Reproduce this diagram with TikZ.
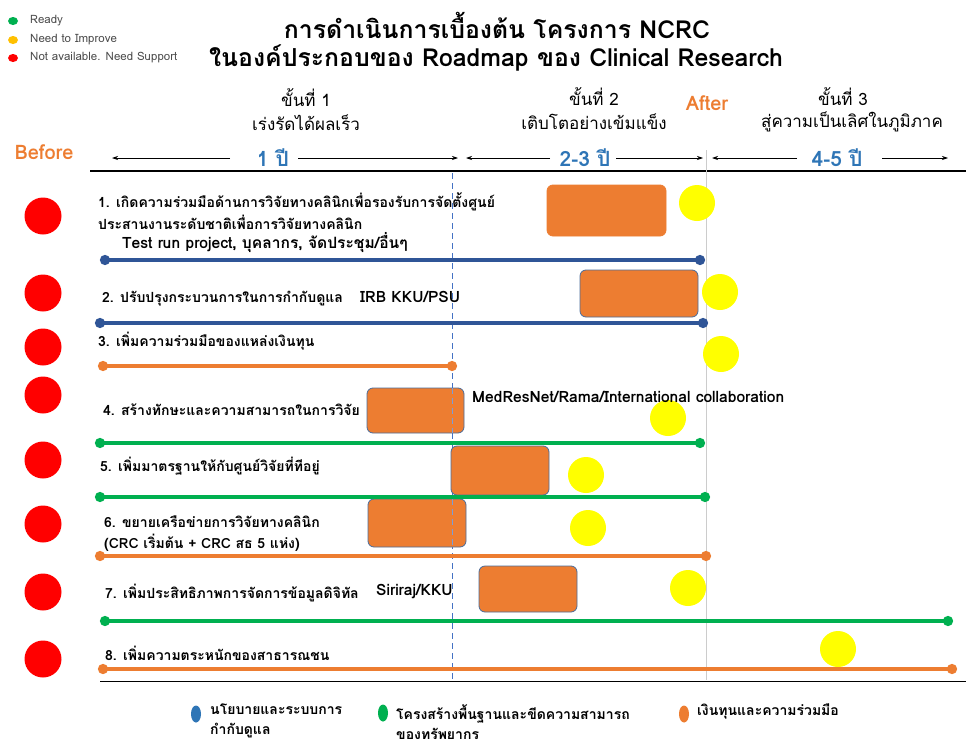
\documentclass[tikz,border=0pt]{standalone}
\usepackage{fontspec}
\setmainfont[Script=Thai]{Loma}
\usetikzlibrary{arrows.meta,shapes.geometric}
\definecolor{cOrange}{HTML}{ED7D31}
\definecolor{cBlueLine}{HTML}{2F5597}
\definecolor{cGreen}{HTML}{00B050}
\definecolor{cYel}{HTML}{FFFF00}
\definecolor{cRed}{HTML}{FF0000}
\definecolor{cBlueTxt}{HTML}{2E75B6}
\definecolor{cBoxEdge}{HTML}{4A6C9B}
\definecolor{cGold}{HTML}{FFC000}
\definecolor{cDash}{HTML}{4472C4}
\tikzset{
  reddot/.style={circle,fill=cRed,minimum size=37pt,inner sep=0pt},
  yeldot/.style={circle,fill=cYel,minimum size=36pt,inner sep=0pt},
  taskbox/.style={rounded corners=6pt,fill=cOrange,draw=cBoxEdge,line width=0.8pt,inner sep=0pt},
  rowtxt/.style={anchor=west,inner sep=0pt,font=\fontsize{14}{16}\selectfont\bfseries},
  reftxt/.style={anchor=west,inner sep=0pt,font=\fontsize{15.6}{17}\selectfont\bfseries},
  tl/.style={line width=3.8pt,{Circle[length=10pt,width=10pt]}-{Circle[length=10pt,width=10pt]}},
  hdrarrow/.style={line width=0.7pt,-{Stealth[length=6pt,width=4pt]}},
  yeartxt/.style={text=cBlueTxt,inner sep=0pt,font=\fontsize{21}{23}\selectfont\bfseries},
  stagetxt/.style={inner sep=0pt,align=center,font=\fontsize{17}{25}\selectfont},
  legdot/.style={ellipse,minimum width=10pt,minimum height=8pt,inner sep=0pt},
  legtxt/.style={anchor=west,inner sep=0pt,text=black!70,font=\fontsize{11.5}{13}\selectfont},
  bleg/.style={ellipse,minimum width=10pt,minimum height=17pt,inner sep=0pt},
  blegtxt/.style={anchor=north west,inner sep=0pt,align=left,font=\fontsize{14}{20}\selectfont\bfseries},
  beforeafter/.style={text=cOrange,inner sep=0pt,font=\fontsize{20}{22}\selectfont\bfseries}
}
\begin{document}
\begin{tikzpicture}[x=1pt,y=-1pt]
\useasboundingbox[fill=white] (0,0) rectangle (966,744);

% top-left legend
\node[legdot,fill=cGreen] (lg1) at (13,21) {};
\node[legdot,fill=cGold] (lg2) at (13,40) {};
\node[legdot,fill=cRed] (lg3) at (13,58) {};
\node[legtxt] (lt1) at (30,21) {Ready};
\node[legtxt] (lt2) at (30,40) {Need to Improve};
\node[legtxt] (lt3) at (30,58) {Not available. Need Support};

% title
\node[inner sep=0pt,font=\fontsize{24.8}{30}\selectfont\bfseries] (t1) at (497,25) {การดำเนินการเบื้องต้น โครงการ NCRC};
\node[inner sep=0pt,font=\fontsize{24.8}{30}\selectfont\bfseries] (t2) at (496,58) {ในองค์ประกอบของ Roadmap ของ Clinical Research};

% stages
\node[stagetxt] (s1a) at (306,98) {ขั้นที่ 1};
\node[stagetxt] (s1b) at (306,123) {เร่งรัดได้ผลเร็ว};
\node[stagetxt] (s2a) at (594,97) {ขั้นที่ 2};
\node[stagetxt] (s2b) at (594,122) {เติบโตอย่างเข้มแข็ง};
\node[stagetxt] (s3a) at (843,97) {ขั้นที่ 3};
\node[stagetxt] (s3b) at (852,122) {สู่ความเป็นเลิศในภูมิภาค};
\node[beforeafter] (after) at (707,103) {After};
\node[beforeafter] (before) at (44,152) {Before};

% year arrows
\node[yeartxt] (yr1) at (273,158) {1 ปี};
\node[yeartxt] (yr2) at (585,158) {2-3 ปี};
\node[yeartxt] (yr3) at (837,158) {4-5 ปี};
\coordinate (a1s) at (230,158); \coordinate (a1e) at (112,158);
\coordinate (a2s) at (298,158); \coordinate (a2e) at (458,158);
\coordinate (a3s) at (550,158); \coordinate (a3e) at (466,158);
\coordinate (a4s) at (616,158); \coordinate (a4e) at (703,158);
\coordinate (a5s) at (797,158); \coordinate (a5e) at (712,158);
\coordinate (a6s) at (882,158); \coordinate (a6e) at (948,158);
\foreach \s/\e in {a1s/a1e,a2s/a2e,a3s/a3e,a4s/a4e,a5s/a5e,a6s/a6e}
  \draw[hdrarrow] (\s) -- (\e);

% frame lines
\coordinate (h1) at (90,171); \coordinate (h2) at (966,171);
\draw[line width=1.5pt] (h1) -- (h2);
\coordinate (f1) at (100,681); \coordinate (f2) at (966,681);
\draw[line width=1pt] (f1) -- (f2);
\coordinate (v1a) at (452,173); \coordinate (v1b) at (452,680);
\draw[cDash,line width=0.8pt,dash pattern=on 6pt off 4pt] (v1a) -- (v1b);
\coordinate (v2a) at (706,150); \coordinate (v2b) at (706,680);
\draw[black!20,line width=1pt] (v2a) -- (v2b);

% red status dots
\foreach \i/\y in {1/216,2/293,3/347,4/395,5/460,6/524,7/592,8/659}
  \node[reddot] (rd\i) at (43,\y) {};

% boxes
\node[taskbox,draw=cOrange,minimum width=119pt,minimum height=51pt] (b1) at (606.5,210.5) {};
\node[taskbox,minimum width=118pt,minimum height=47pt] (b2) at (639,293.5) {};
\node[taskbox,minimum width=97pt,minimum height=45pt] (b4) at (415.5,410.5) {};
\node[taskbox,minimum width=98pt,minimum height=49pt] (b5) at (500,470.5) {};
\node[taskbox,minimum width=98pt,minimum height=48pt] (b6) at (417,523) {};
\node[taskbox,minimum width=98pt,minimum height=46pt] (b7) at (528,589) {};

% dashed line visible through boxes
\coordinate (v1c) at (452,388); \coordinate (v1d) at (452,433);
\draw[cDash!70,line width=0.8pt,dash pattern=on 6pt off 4pt] (v1c) -- (v1d);
\coordinate (v1e) at (452,499); \coordinate (v1f) at (452,547);
\draw[cDash!70,line width=0.8pt,dash pattern=on 6pt off 4pt] (v1e) -- (v1f);

% yellow dots
\foreach \i/\x/\y in {1/697/203,2/720/292,3/721/354,4/668/418,5/586/475,6/588/528,7/688/588,8/838/649}
  \node[yeldot] (yd\i) at (\x,\y) {};

% row texts
\node[rowtxt] (r1a) at (98,202) {1. เกิดความร่วมมือด้านการวิจัยทางคลินิกเพื่อรองรับการจัดตั้งศูนย์};
\node[rowtxt] (r1b) at (98,222) {ประสานงานระดับชาติเพื่อการวิจัยทางคลินิก};
\node[reftxt] (r1c) at (122,243) {Test run project, บุคลากร, จัดประชุม/อื่นๆ};
\node[rowtxt] (r2) at (102,299) {2. ปรับปรุงกระบวนการในการกำกับดูแล};
\node[reftxt] (r2x) at (360,297) {IRB KKU/PSU};
\node[rowtxt] (r3) at (98,341) {3. เพิ่มความร่วมมือของแหล่งเงินทุน};
\node[rowtxt] (r4) at (103,410) {4. สร้างทักษะและความสามารถในการวิจัย};
\node[reftxt] (r4x) at (472,397) {MedResNet/Rama/International collaboration};
\node[rowtxt] (r5) at (100,466) {5. เพิ่มมาตรฐานให้กับศูนย์วิจัยที่ทีอยู่};
\node[rowtxt] (r6a) at (104,522) {6. ขยายเครือข่ายการวิจัยทางคลินิก};
\node[rowtxt] (r6b) at (104,543) {(CRC เริ่มต้น + CRC สธ 5 แห่ง)};
\node[rowtxt] (r7) at (105,593) {7. เพิ่มประสิทธิภาพการจัดการข้อมูลดิจิทัล};
\node[reftxt] (r7x) at (376,592) {Siriraj/KKU};
\node[rowtxt] (r8) at (105,653) {8. เพิ่มความตระหนักของสาธารณชน};

% timelines
\coordinate (l1s) at (100,260); \coordinate (l1e) at (705,260);
\coordinate (l2s) at (95,323);  \coordinate (l2e) at (708,323);
\coordinate (l3s) at (98,366);  \coordinate (l3e) at (457,366);
\coordinate (l4s) at (95,443);  \coordinate (l4e) at (705,443);
\coordinate (l5s) at (95,497);  \coordinate (l5e) at (710,497);
\coordinate (l6s) at (95,556);  \coordinate (l6e) at (711,556);
\coordinate (l7s) at (100,621); \coordinate (l7e) at (953,621);
\coordinate (l8s) at (98,669);  \coordinate (l8e) at (957,669);
\draw[tl,cBlueLine] (l1s) -- (l1e);
\draw[tl,cBlueLine] (l2s) -- (l2e);
\draw[tl,cOrange] (l3s) -- (l3e);
\draw[tl,cGreen] (l4s) -- (l4e);
\draw[tl,cGreen] (l5s) -- (l5e);
\draw[tl,cOrange] (l6s) -- (l6e);
\draw[tl,cGreen] (l7s) -- (l7e);
\draw[tl,cOrange] (l8s) -- (l8e);

% bottom legend
\node[bleg,fill=cBlueTxt] (bl1) at (196,714) {};
\node[bleg,fill=cGreen] (bl2) at (383,713) {};
\node[bleg,fill=cOrange] (bl3) at (684,714) {};
\node[blegtxt] (bt1) at (210,704) {นโยบายและระบบการ\\กำกับดูแล};
\node[blegtxt] (bt2) at (396,704) {โครงสร้างพื้นฐานและขีดความสามารถ\\ของทรัพยากร};
\node[blegtxt] (bt3) at (697,704) {เงินทุนและความร่วมมือ};
\end{tikzpicture}
\end{document}
